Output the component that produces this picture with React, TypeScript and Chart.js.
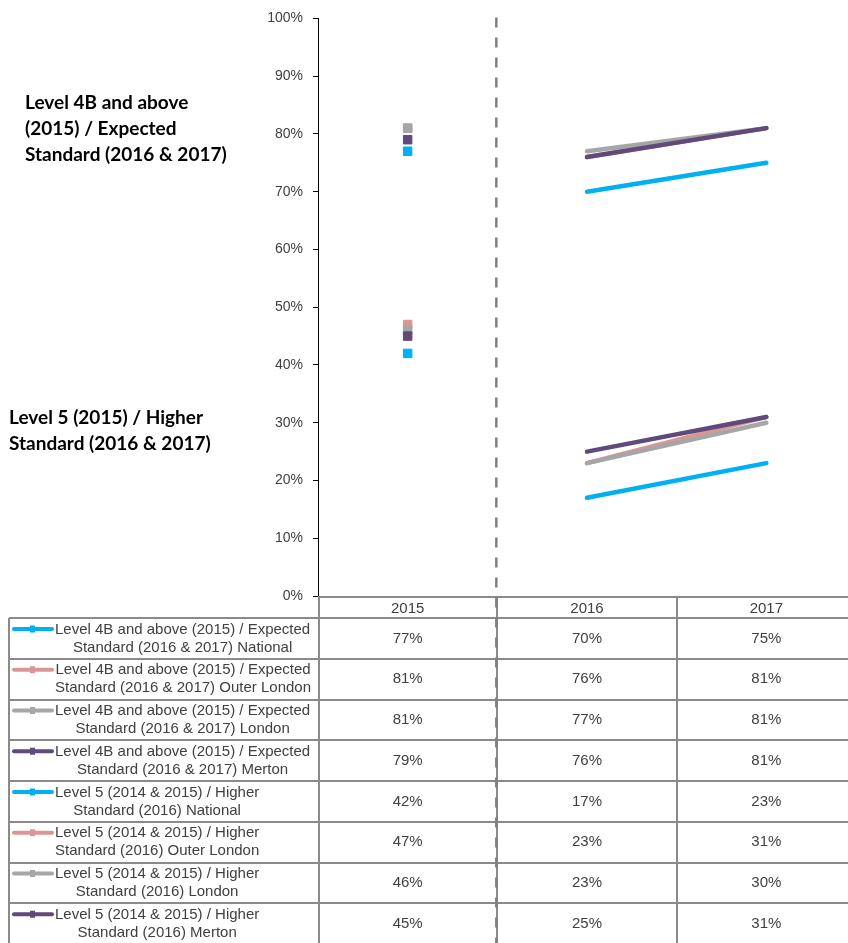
import React, { useEffect, useRef } from "react";
import { Chart, registerables } from "chart.js";

Chart.register(...registerables);

// Year columns
const categories = ["2015", "2016", "2017"];

// Level 4B and above (2015) / Expected Standard (2016 & 2017)
const expectedNational = [77, 70, 75];
const expectedOuterLondon = [81, 76, 81];
const expectedLondon = [81, 77, 81];
const expectedMerton = [79, 76, 81];

// Level 5 (2014 & 2015) / Higher Standard (2016)
const higherNational = [42, 17, 23];
const higherOuterLondon = [47, 23, 31];
const higherLondon = [46, 23, 30];
const higherMerton = [45, 25, 31];

const seriesNames = [
  "Level 4B and above (2015) / Expected\nStandard (2016 & 2017) National",
  "Level 4B and above (2015) / Expected\nStandard (2016 & 2017) Outer London",
  "Level 4B and above (2015) / Expected\nStandard (2016 & 2017) London",
  "Level 4B and above (2015) / Expected\nStandard (2016 & 2017) Merton",
  "Level 5 (2014 & 2015) / Higher\nStandard (2016) National",
  "Level 5 (2014 & 2015) / Higher\nStandard (2016) Outer London",
  "Level 5 (2014 & 2015) / Higher\nStandard (2016) London",
  "Level 5 (2014 & 2015) / Higher\nStandard (2016) Merton",
];

const seriesValues = [
  expectedNational,
  expectedOuterLondon,
  expectedLondon,
  expectedMerton,
  higherNational,
  higherOuterLondon,
  higherLondon,
  higherMerton,
];

const areaColors = ["#00B0F0", "#D99694", "#A6A6A6", "#604A7B"];

const yTickLabels = ["0%", "10%", "20%", "30%", "40%", "50%", "60%", "70%", "80%", "90%", "100%"];

const upperNote = ["Level 4B and above", "(2015) / Expected", "Standard (2016 & 2017)"];
const lowerNote = ["Level 5 (2015) / Higher", "Standard (2016 & 2017)"];

const TEXT = "#404040";
const GRID = "#8a8a8a";
const FONT = "'Liberation Sans', Arial, sans-serif";

const dataTablePlugin = {
  id: "dataTable",
  afterDraw(chart: any) {
    const { ctx, chartArea, scales } = chart;
    const x = scales.x;
    const W = chart.width;
    const H = chart.height;
    const left = 9;
    const colLeft = chartArea.left;
    const headerTop = chartArea.bottom + 1;
    const headerBottom = 618;
    const rowH = 40.75;
    const half = (x.getPixelForValue(1) - x.getPixelForValue(0)) / 2;

    ctx.save();

    // table grid
    ctx.strokeStyle = GRID;
    ctx.lineWidth = 2;
    ctx.beginPath();
    ctx.moveTo(colLeft, headerTop);
    ctx.lineTo(W, headerTop);
    for (let r = 0; r <= seriesNames.length; r++) {
      const y = Math.round(headerBottom + r * rowH);
      ctx.moveTo(left, y);
      ctx.lineTo(W, y);
    }
    ctx.moveTo(left, headerBottom);
    ctx.lineTo(left, H);
    ctx.moveTo(colLeft + 1, headerTop);
    ctx.lineTo(colLeft + 1, H);
    for (let i = 1; i < categories.length; i++) {
      const bx = Math.round(x.getPixelForValue(i) - half);
      ctx.moveTo(bx, headerTop);
      ctx.lineTo(bx, H);
    }
    ctx.stroke();

    // dashed divider between 2015 and 2016
    const dx = x.getPixelForValue(0) + half - 1;
    ctx.strokeStyle = "#7f7f7f";
    ctx.lineWidth = 2.5;
    ctx.setLineDash([10, 10]);
    ctx.beginPath();
    ctx.moveTo(dx, chartArea.top - 1);
    ctx.lineTo(dx, H);
    ctx.stroke();
    ctx.setLineDash([]);

    // header years
    ctx.fillStyle = TEXT;
    ctx.font = `15px ${FONT}`;
    ctx.textAlign = "center";
    ctx.textBaseline = "middle";
    categories.forEach((c, i) => {
      ctx.fillText(c, x.getPixelForValue(i), (headerTop + headerBottom) / 2 + 1);
    });

    // rows
    seriesNames.forEach((name, r) => {
      const top = headerBottom + r * rowH;
      const color = areaColors[r % 4];
      // legend key
      const ky = top + 11;
      ctx.strokeStyle = color;
      ctx.lineWidth = 4;
      ctx.lineCap = "round";
      ctx.beginPath();
      ctx.moveTo(14, ky);
      ctx.lineTo(52, ky);
      ctx.stroke();
      ctx.fillStyle = color;
      ctx.fillRect(30, ky - 3.5, 5, 7);

      // name: wrapped block placed after the key, lines centred within it
      ctx.fillStyle = TEXT;
      ctx.textAlign = "center";
      const lines = name.split("\n");
      const blockW = Math.max(...lines.map((ln) => ctx.measureText(ln).width));
      const cx = 55 + blockW / 2;
      lines.forEach((ln, k) => {
        ctx.fillText(ln, cx, top + 11.5 + k * 18);
      });

      // values
      seriesValues[r].forEach((v, i) => {
        ctx.fillText(`${v}%`, x.getPixelForValue(i), top + 20.5);
      });
    });

    // group notes
    ctx.fillStyle = "#000";
    ctx.textAlign = "left";
    ctx.font = `bold 19px Lato, ${FONT}`;
    upperNote.forEach((t, k) => ctx.fillText(t, 25, 103 + k * 26));
    lowerNote.forEach((t, k) => ctx.fillText(t, 9, 418 + k * 26));

    ctx.restore();
  },
};

export default function App() {
  const ref = useRef<HTMLCanvasElement | null>(null);

  useEffect(() => {
    if (!ref.current) return;
    const datasets = seriesValues.map((vals, i) => {
      const color = areaColors[i % 4];
      return {
        label: seriesNames[i].replace("\n", " "),
        data: vals,
        borderColor: color,
        backgroundColor: color,
        borderWidth: 4.5,
        borderCapStyle: "round" as const,
        pointStyle: "rect" as const,
        pointRadius: vals.map((_, k) => (k === 0 ? 6 : 0)),
        pointHoverRadius: 0,
        pointBorderWidth: 1,
        pointBorderColor: color,
        pointBackgroundColor: color,
        order: 20 - i,
        segment: {
          borderColor: (c: any) => (c.p0DataIndex === 0 ? "rgba(0,0,0,0)" : undefined),
        },
      };
    });

    const chart = new Chart(ref.current, {
      type: "line",
      data: { labels: categories, datasets },
      options: {
        animation: false,
        responsive: false,
        devicePixelRatio: 1,
        layout: { padding: { left: 0, right: 0, top: 16, bottom: 347 } },
        plugins: { legend: { display: false }, tooltip: { enabled: false } },
        scales: {
          x: { type: "category", offset: true, display: false },
          y: {
            min: 0,
            max: 100,
            afterFit: (s: any) => {
              s.width = 318;
            },
            afterBuildTicks: (s: any) => {
              s.ticks = yTickLabels.map((_, i) => ({ value: i * 10 }));
            },
            ticks: {
              padding: 10,
              color: TEXT,
              font: { family: FONT, size: 14 },
              callback: (_v: any, i: number) => yTickLabels[i],
            },
            grid: { drawOnChartArea: false, drawTicks: true, tickLength: 5, color: "#000" },
            border: { color: "#000", width: 1 },
          },
        },
      },
      plugins: [dataTablePlugin],
    });
    return () => chart.destroy();
  }, []);

  return (
    <div style={{ position: "fixed", left: 0, top: 0, width: 848, height: 943, overflow: "hidden", background: "#fff" }}>
      <canvas ref={ref} width={863} height={943} style={{ display: "block" }} />
    </div>
  );
}
